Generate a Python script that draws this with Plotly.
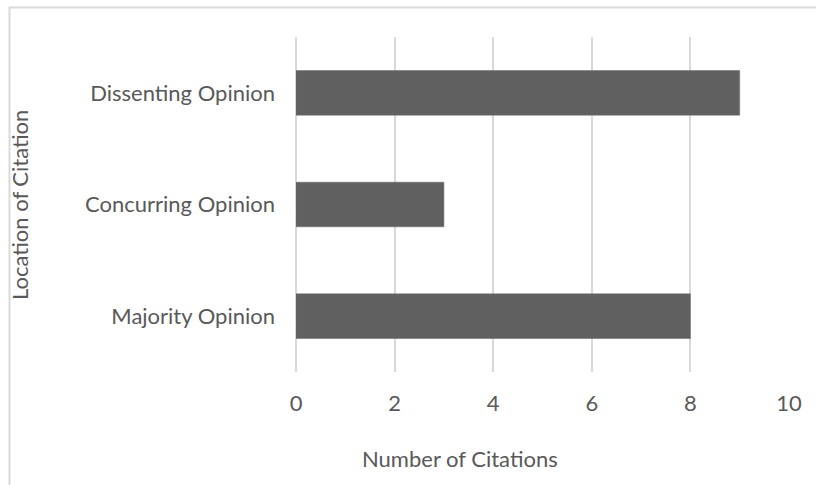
import plotly.graph_objects as go

categories = ["Majority Opinion", "Concurring Opinion", "Dissenting Opinion"]
citations = [8, 3, 9]
x_ticks = [0, 2, 4, 6, 8, 10]

W, H = 816, 485
L, R, T, B = 296, 27, 37, 113
pw, ph = W - L - R, H - T - B

def px(x):
    return (x - L) / pw

def py(y):
    return (H - B - y) / ph

FONT = "Lato"
TXT = "#595959"
GRID = "#d9d9d9"

fig = go.Figure(go.Bar(
    y=categories, x=citations, orientation="h",
    marker=dict(color="#606060", line=dict(color="#6a6a6a", width=0.5)),
))

fig.update_layout(
    width=W, height=H,
    margin=dict(l=L, r=R, t=T, b=B),
    paper_bgcolor="white", plot_bgcolor="white",
    bargap=0.6, showlegend=False,
    font=dict(family=FONT, size=22, color=TXT),
    xaxis=dict(range=[0, 10], tickvals=x_ticks, showgrid=True, gridcolor=GRID, gridwidth=1.8,
               zeroline=True, zerolinecolor=GRID, zerolinewidth=1.8, showline=False,
               ticks="", ticklabelstandoff=16, tickfont=dict(family=FONT, size=22, color=TXT)),
    yaxis=dict(showgrid=False, zeroline=False, showline=False, ticks="",
               ticklabelstandoff=20, tickfont=dict(family=FONT, size=22, color=TXT)),
    shapes=[dict(type="rect", xref="paper", yref="paper",
                 x0=px(9.5), x1=1.2, y0=-0.6, y1=py(7.5),
                 line=dict(color=GRID, width=2), fillcolor="rgba(0,0,0,0)", layer="below")],
    annotations=[
        dict(text="Number of Citations", xref="paper", yref="paper", x=px(460), y=py(459),
             showarrow=False, xanchor="center", yanchor="middle",
             font=dict(family=FONT, size=22, color=TXT)),
        dict(text="Location of Citation", xref="paper", yref="paper", x=px(19), y=py(205),
             showarrow=False, xanchor="center", yanchor="middle", textangle=-90,
             font=dict(family=FONT, size=22, color=TXT)),
    ],
)

fig.write_html("out.html")
